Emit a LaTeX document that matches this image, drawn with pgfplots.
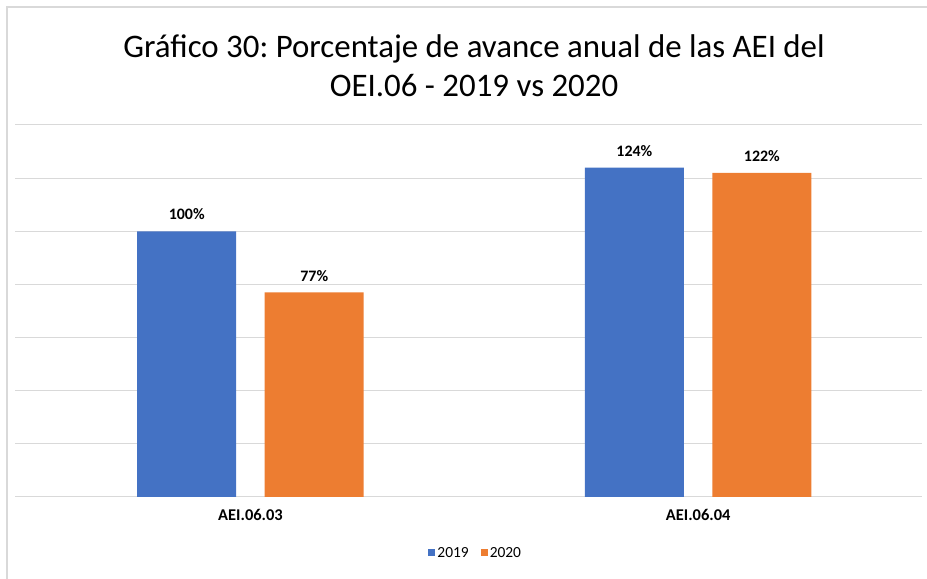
\documentclass[border=0pt]{standalone}
\usepackage{pgfplots}
\pgfplotsset{compat=1.18}
\usepackage{fontspec}
\setmainfont{Carlito}
\definecolor{b19}{HTML}{4472C4}
\definecolor{o20}{HTML}{ED7D31}
\definecolor{grd}{HTML}{D9D9D9}
\begin{document}
\frenchspacing
\begin{tikzpicture}[x=1bp,y=1bp]
\useasboundingbox (0,0) rectangle (927,579);
\draw[grd, line width=1.5bp] (7,0) -- (7,572) -- (927,572);
\node[font=\fontsize{33}{39}\selectfont, align=center, text=black] at (474,513) {Gráfico 30: Porcentaje de avance anual de las AEI del\\OEI.06 - 2019 vs 2020};
\begin{axis}[
  at={(15bp,82bp)}, anchor=south west,
  scale only axis, width=907bp, height=372bp,
  xmin=-0.526, xmax=1.5, ymin=0, ymax=140,
  ytick={0,20,...,140}, yticklabels={},
  ymajorgrids, grid style={grd, line width=1bp},
  axis line style={draw=none},
  major tick length=0,
  /pgf/number format/assume math mode=true,
  xtick={0,1}, xticklabels={AEI.06.03, AEI.06.04},
  xticklabel style={font=\bfseries\fontsize{16.5}{19}\selectfont, yshift=-9bp},
  ybar, bar width=99bp,
  nodes near coords={\pgfmathprintnumber{\pgfplotspointmeta}\%},
  nodes near coords style={font=\bfseries\fontsize{16}{19}\selectfont, inner sep=0pt, yshift=11bp, anchor=south},
  legend columns=2,
  legend style={draw=none, at={(0.508,-0.1505)}, anchor=center, font=\fontsize{15.5}{18}\selectfont,
     /tikz/every even column/.append style={column sep=10bp}},
  legend image code/.code={\fill[#1] (0bp,-3.5bp) rectangle (7bp,3.5bp);},
]
\addplot[fill=b19, draw=none, bar shift=-63.75bp] coordinates {(0,100) (1,124)};
\addplot[fill=o20, draw=none, bar shift=63.75bp] coordinates {(0,77) (1,122)};
\legend{2019,2020}
\end{axis}
\end{tikzpicture}
\end{document}
